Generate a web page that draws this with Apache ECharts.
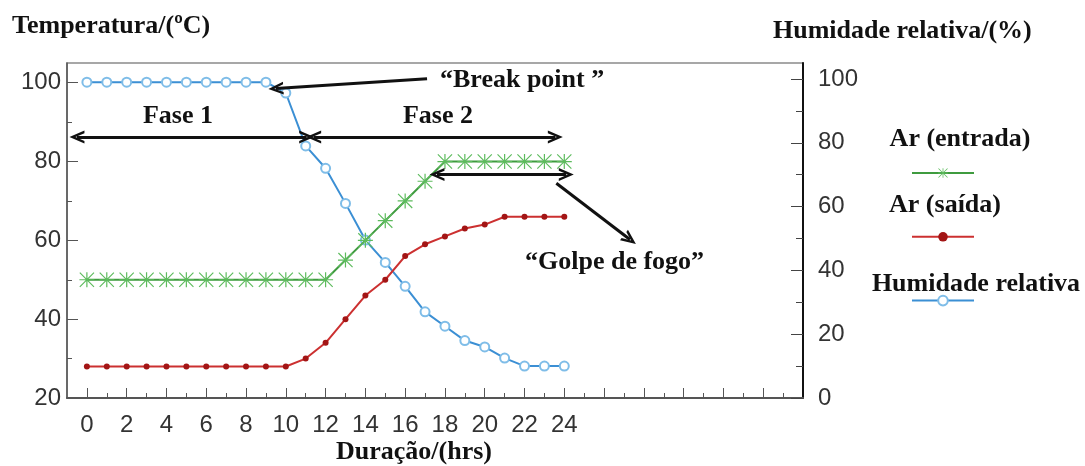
<!DOCTYPE html>
<html>
<head>
<meta charset="utf-8">
<script src="https://cdn.jsdelivr.net/npm/echarts@6/dist/echarts.min.js"></script>
<style>
html,body{margin:0;padding:0;background:#fff;}
#chart{width:1085px;height:466px;}
</style>
</head>
<body>
<div id="chart"></div>
<script>
// ---- data ----
const hours = [0,1,2,3,4,5,6,7,8,9,10,11,12,13,14,15,16,17,18,19,20,21,22,23,24];
const arEntrada = [50,50,50,50,50,50,50,50,50,50,50,50,50,55,60,65,70,75,80,80,80,80,80,80,80];
const arSaida   = [28,28,28,28,28,28,28,28,28,28,28,30,34,40,46,50,56,59,61,63,64,66,66,66,66];
const humidade  = [99,99,99,99,99,99,99,99,99,99,95.6,79,72,61,49.5,42.5,35,27,22.5,18,16,12.5,10,10,10];
const seriesNames = ['Ar (entrada)','Ar (saída)','Humidade relativa'];
const xTickLabels = [0,2,4,6,8,10,12,14,16,18,20,22,24];
const leftTickLabels = [20,40,60,80,100];
const rightTickLabels = [0,20,40,60,80,100];

// annotation arrows in data space (x in hours, y in °C)
const faseArrows = [
  [[-0.5,86.2],[11.05,86.2]],
  [[11.4,86.2],[23.55,86.2]]
];
const golpeArrow = [[17.6,76.7],[24.1,76.7]];
const golpePointer = [[23.6,74.5],[27.3,60.2]];
const breakPointer = [[17.1,101],[9.5,98.5]];

const serif = '"Liberation Serif", "Times New Roman", serif';
const sans = '"Liberation Sans", Arial, sans-serif';

const chevron = 'path://M0 10 L5 0 L10 10 L8 10 L5 4 L2 10 Z';
const star = 'path://M9.2 0 L10.8 0 L10.8 20 L9.2 20 Z M0 9.2 L20 9.2 L20 10.8 L0 10.8 Z M0 1.1 L1.1 0 L20 18.9 L18.9 20 Z M18.9 0 L20 1.1 L1.1 20 L0 18.9 Z';

const intTicks = []; for (let i = 0; i <= 35; i++) intTicks.push(i);
const evenTicks = intTicks.filter(v => v % 2 === 0);

function pair(xs, ys){ return xs.map((x,i)=>[x, ys[i]]); }

const arrowLine = (a,b,syms) => [{coord:a, symbol:syms[0]},{coord:b, symbol:syms[1]}];

const chart = echarts.init(document.getElementById('chart'), null, {renderer:'canvas'});
const option = {
  animation:false,
  backgroundColor:'#fff',
  grid:{left:67, right:282, top:63, bottom:68, show:true, borderColor:'#8a8a8a', borderWidth:1.5, containLabel:false},
  legend:{
    orient:'vertical', left:906, top:162, itemWidth:62, itemHeight:12, itemGap:53,
    data:seriesNames, formatter:()=>'', selectedMode:false, textStyle:{fontSize:1}
  },
  xAxis:[
    {type:'value', min:-1, max:36, position:'bottom',
     axisLine:{show:true, onZero:false, lineStyle:{color:'#555', width:2}},
     axisTick:{show:true, inside:true, length:5, customValues:intTicks, lineStyle:{color:'#555', width:1}},
     axisLabel:{customValues:xTickLabels, margin:15, fontFamily:sans, fontSize:24, color:'#333'},
     splitLine:{show:false}},
    {type:'value', min:-1, max:36, position:'bottom',
     axisLine:{show:false, onZero:false},
     axisTick:{show:true, inside:true, length:10, customValues:evenTicks, lineStyle:{color:'#555', width:1}},
     axisLabel:{show:false}, splitLine:{show:false}}
  ],
  yAxis:[
    {type:'value', min:20, max:105, position:'left',
     axisLine:{show:true, onZero:false, lineStyle:{color:'#555', width:1.5}},
     axisTick:{show:true, inside:true, length:11, customValues:leftTickLabels, lineStyle:{color:'#555'}},
     axisLabel:{customValues:leftTickLabels, margin:6, fontFamily:sans, fontSize:24, color:'#333'},
     splitLine:{show:false}},
    {type:'value', min:0, max:105, position:'right',
     axisLine:{show:true, onZero:false, lineStyle:{color:'#111', width:2}},
     axisTick:{show:true, inside:true, length:12, customValues:rightTickLabels, lineStyle:{color:'#444'}},
     axisLabel:{customValues:rightTickLabels, margin:15, fontFamily:sans, fontSize:24, color:'#333'},
     splitLine:{show:false}},
    {type:'value', min:20, max:105, position:'left',
     axisLine:{show:false, onZero:false},
     axisTick:{show:true, inside:true, length:5, customValues:[30,50,70,90], lineStyle:{color:'#555'}},
     axisLabel:{show:false}, splitLine:{show:false}},
    {type:'value', min:0, max:105, position:'right',
     axisLine:{show:false, onZero:false},
     axisTick:{show:true, inside:true, length:7, customValues:[10,30,50,70,90], lineStyle:{color:'#444'}},
     axisLabel:{show:false}, splitLine:{show:false}}
  ],
  series:[
    {name:seriesNames[0], type:'line', xAxisIndex:0, yAxisIndex:0,
     data:pair(hours, arEntrada),
     symbol:star, symbolSize:15,
     lineStyle:{color:'#3f9b3f', width:2},
     itemStyle:{color:'#5dbb5d'},
     z:3,
     markLine:{
       silent:true, animation:false, symbolSize:[13,15],
       label:{show:false},
       lineStyle:{color:'#111', width:3, type:'solid'},
       emphasis:{disabled:true},
       data:[
         arrowLine(faseArrows[0][0], faseArrows[0][1], [chevron, chevron]),
         arrowLine(faseArrows[1][0], faseArrows[1][1], [chevron, chevron]),
         arrowLine(golpeArrow[0], golpeArrow[1], [chevron, chevron]),
         arrowLine(golpePointer[0], golpePointer[1], ['none', chevron]),
         arrowLine(breakPointer[0], breakPointer[1], ['none', chevron])
       ]
     }},
    {name:seriesNames[1], type:'line', xAxisIndex:0, yAxisIndex:0,
     data:pair(hours, arSaida),
     symbol:'circle', symbolSize:6,
     lineStyle:{color:'#cc3030', width:2},
     itemStyle:{color:'#a31515'},
     z:4},
    {name:seriesNames[2], type:'line', xAxisIndex:0, yAxisIndex:1,
     data:pair(hours, humidade),
     symbol:'emptyCircle', symbolSize:9,
     lineStyle:{color:'#3b8fd4', width:2},
     itemStyle:{color:'#7fbde8', borderColor:'#7fbde8', borderWidth:1.2},
     z:2}
  ],
  graphic:[
    {type:'text', x:12, y:26, style:{text:'Temperatura/(ºC)', font:'bold 26px '+serif, fill:'#111', textAlign:'left', textVerticalAlign:'middle'}},
    {type:'text', x:773, y:31, style:{text:'Humidade relativa/(%)', font:'bold 26px '+serif, fill:'#111', textAlign:'left', textVerticalAlign:'middle'}},
    {type:'text', x:414, y:452, style:{text:'Duração/(hrs)', font:'bold 26px '+serif, fill:'#111', textAlign:'center', textVerticalAlign:'middle'}},
    {type:'text', x:178, y:116, style:{text:'Fase 1', font:'bold 26px '+serif, fill:'#111', textAlign:'center', textVerticalAlign:'middle'}},
    {type:'text', x:438, y:116, style:{text:'Fase 2', font:'bold 26px '+serif, fill:'#111', textAlign:'center', textVerticalAlign:'middle'}},
    {type:'text', x:440, y:80, style:{text:'“Break point ”', font:'bold 26px '+serif, fill:'#111', textAlign:'left', textVerticalAlign:'middle'}},
    {type:'text', x:525, y:262, style:{text:'“Golpe de fogo”', font:'bold 26px '+serif, fill:'#111', textAlign:'left', textVerticalAlign:'middle'}},
    {type:'text', x:960, y:139, style:{text:seriesNames[0], font:'bold 26px '+serif, fill:'#111', textAlign:'center', textVerticalAlign:'middle'}},
    {type:'text', x:945, y:205, style:{text:seriesNames[1], font:'bold 26px '+serif, fill:'#111', textAlign:'center', textVerticalAlign:'middle'}},
    {type:'text', x:976, y:284, style:{text:seriesNames[2], font:'bold 26px '+serif, fill:'#111', textAlign:'center', textVerticalAlign:'middle'}}
  ]
};
chart.setOption(option);
</script>
</body>
</html>
